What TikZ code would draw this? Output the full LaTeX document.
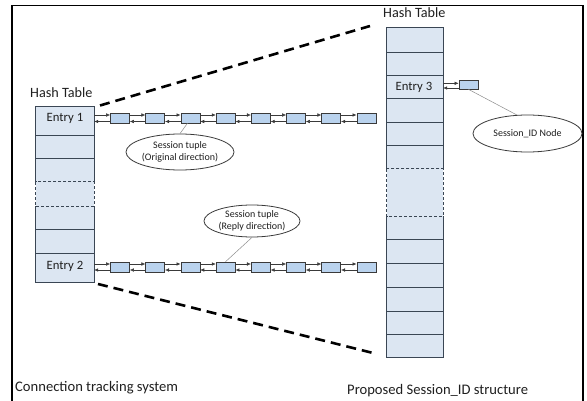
\documentclass[tikz,border=0pt]{standalone}
\usepackage{fontspec}
\setmainfont{Carlito}
\usetikzlibrary{arrows.meta,shapes.geometric}

\definecolor{rowfill}{HTML}{DCE6F2}
\definecolor{cellfill}{HTML}{BAD3EE}
\definecolor{gridline}{HTML}{3A4654}
\definecolor{ink}{HTML}{1F1F1F}
\definecolor{wire}{HTML}{3A3A3A}
\definecolor{leadercol}{HTML}{8C8C8C}

\tikzset{
  slot/.style={rectangle, fill=rowfill, inner sep=0pt, minimum width=#1},
  gridpen/.style={draw=gridline, line width=0.8pt},
  gridgap/.style={gridpen, dash pattern=on 3pt off 2pt},
  cell/.style={rectangle, draw=wire, fill=cellfill, line width=0.7pt,
               inner sep=0pt, minimum width=19pt, minimum height=10pt},
  fwd/.style={draw=wire, line width=0.55pt, -{Latex[length=4pt,width=3.6pt]}},
  bubble/.style={ellipse, draw=wire, fill=white, line width=0.8pt, inner sep=0pt,
                 align=center, text=ink, font=\fontsize{10}{12}\selectfont},
  leaderline/.style={draw=leadercol, line width=0.5pt},
  zoomline/.style={draw=black, line width=2.6pt, dash pattern=on 10pt off 6pt},
  frameline/.style={draw=black, line width=1.3pt},
  caption/.style={inner sep=0pt, text=ink, font=\fontsize{14.2}{16}\selectfont},
  entrytext/.style={inner sep=0pt, text=ink, font=\fontsize{12.7}{14}\selectfont},
}

\begin{document}
\begin{tikzpicture}[x=1pt,y=-1pt]
\useasboundingbox (0,0) rectangle (587,401);

% outer frame (bottom edge runs off the page)
\draw[frameline] (12,401) -- (12,5.7) -- (583,5.7) -- (583,401);

% ---------- left hash table ----------
\node[slot=58pt, minimum height=28pt] (L1) at (65,121) {};
\node[slot=58pt, minimum height=23pt] (L2) at (65,146.5) {};
\node[slot=58pt, minimum height=24pt] (L3) at (65,170) {};
\node[slot=58pt, minimum height=24pt] (L4) at (65,194) {};
\node[slot=58pt, minimum height=23pt] (L5) at (65,217.5) {};
\node[slot=58pt, minimum height=24pt] (L6) at (65,241) {};
\node[slot=58pt, minimum height=29pt] (L7) at (65,267.5) {};
\draw[gridpen] (L3.south west) -- (L1.north west) -- (L1.north east) -- (L3.south east);
\draw[gridpen] (L5.north west) -- (L7.south west) -- (L7.south east) -- (L5.north east);
\foreach \r in {L1,L2,L5,L6} \draw[gridpen] (\r.south west) -- (\r.south east);
\draw[gridgap] (L4.north west) rectangle (L4.south east);

\node[entrytext, anchor=base] (tE1) at (65,121.7) {Entry 1};
\node[entrytext, anchor=base] (tE2) at (65,269.3) {Entry 2};
\node[caption, anchor=base west] (capL) at (30,98) {Hash Table};

% ---------- right hash table ----------
\node[slot=56pt, minimum height=24pt] (R1) at (415,40) {};
\node[slot=56pt, minimum height=23pt] (R2) at (415,63.5) {};
\node[slot=56pt, minimum height=23pt] (R3) at (415,86.5) {};
\node[slot=56pt, minimum height=24pt] (R4) at (415,110) {};
\node[slot=56pt, minimum height=23pt] (R5) at (415,133.5) {};
\node[slot=56pt, minimum height=24pt] (R6) at (415,157) {};
\node[slot=56pt, minimum height=47pt] (R7) at (415,192.5) {};
\node[slot=56pt, minimum height=23pt] (R8) at (415,227.5) {};
\node[slot=56pt, minimum height=24pt] (R9) at (415,251) {};
\node[slot=56pt, minimum height=24pt] (R10) at (415,275) {};
\node[slot=56pt, minimum height=24pt] (R11) at (415,299) {};
\node[slot=56pt, minimum height=23pt] (R12) at (415,322.5) {};
\node[slot=56pt, minimum height=23pt] (R13) at (415,345.5) {};
\draw[gridpen] (R6.south west) -- (R1.north west) -- (R1.north east) -- (R6.south east);
\draw[gridpen] (R8.north west) -- (R13.south west) -- (R13.south east) -- (R8.north east);
\foreach \r in {R1,R2,R3,R4,R5,R8,R9,R10,R11,R12} \draw[gridpen] (\r.south west) -- (\r.south east);
\draw[gridgap] (R7.north west) rectangle (R7.south east);

\node[entrytext, anchor=base] (tE3) at (414,90.7) {Entry 3};
\node[caption, anchor=base west] (capR) at (383,17.3) {Hash Table};

% ---------- session tuple chains ----------
\foreach \i in {1,...,8} {
  \node[cell] (A\i) at ({120+35.2*(\i-1)},118) {};
  \node[cell] (B\i) at ({120+35.2*(\i-1)},267) {};
}
\coordinate (Aport) at (A1.west -| L1.east);
\coordinate (Bport) at (B1.west -| L7.east);
\draw[fwd] ([yshift=3pt]Aport) -- ([yshift=3pt]A1.west);
\draw[fwd] ([yshift=-3.5pt]A1.west) -- ([yshift=-3.5pt]Aport);
\draw[fwd] ([yshift=3pt]Bport) -- ([yshift=3pt]B1.west);
\draw[fwd] ([yshift=-3pt]B1.west) -- ([yshift=-3pt]Bport);
\foreach \i in {1,...,7} {
  \pgfmathtruncatemacro{\j}{\i+1}
  \draw[fwd] ([yshift=3pt]A\i.east) -- ([yshift=3pt]A\j.west);
  \draw[fwd] ([yshift=-3.5pt]A\j.west) -- ([yshift=-3.5pt]A\i.east);
  \draw[fwd] ([yshift=3pt]B\i.east) -- ([yshift=3pt]B\j.west);
  \draw[fwd] ([yshift=-3pt]B\j.west) -- ([yshift=-3pt]B\i.east);
}

% ---------- session id node ----------
\node[cell, minimum height=9pt] (S) at (468.5,84.5) {};
\coordinate (Sport) at (S.west -| R3.east);
\draw[fwd] ([yshift=1.2pt]Sport) -- ([yshift=1.2pt]S.west);
\draw[fwd] ([yshift=-3.5pt]S.west) -- ([yshift=-3.5pt]Sport);

% ---------- callouts ----------
\node[bubble, minimum width=108pt, minimum height=36pt] (E1) at (180,152)
  {Session tuple\\(Original direction)};
\node[bubble, minimum width=96pt, minimum height=32pt] (E2) at (252,221)
  {Session tuple\\(Reply direction)};
\node[bubble, minimum width=109pt, minimum height=37pt] (E3) at (527.5,133.5)
  {Session\_ID Node};
\draw[leaderline] ([xshift=-3pt]A3.south) -- (E1.north);
\draw[leaderline] (B4.north) -- (E2.south);
\draw[leaderline] (S.south) -- (E3.120);

% ---------- zoom lines between the tables ----------
\coordinate (zt1) at (100,105.5);
\coordinate (zt2) at (370,26);
\coordinate (zb1) at (98,284);
\coordinate (zb2) at (373,353);
\draw[zoomline] (zt1) -- (zt2);
\draw[zoomline] (zb1) -- (zb2);

% ---------- captions ----------
\node[caption, anchor=base west, font=\fontsize{14.6}{16}\selectfont] (sysL) at (15,391) {Connection tracking system};
\node[caption, anchor=base west, font=\fontsize{14.6}{16}\selectfont] (sysR) at (347,394) {Proposed Session\_ID structure};
\end{tikzpicture}
\end{document}
